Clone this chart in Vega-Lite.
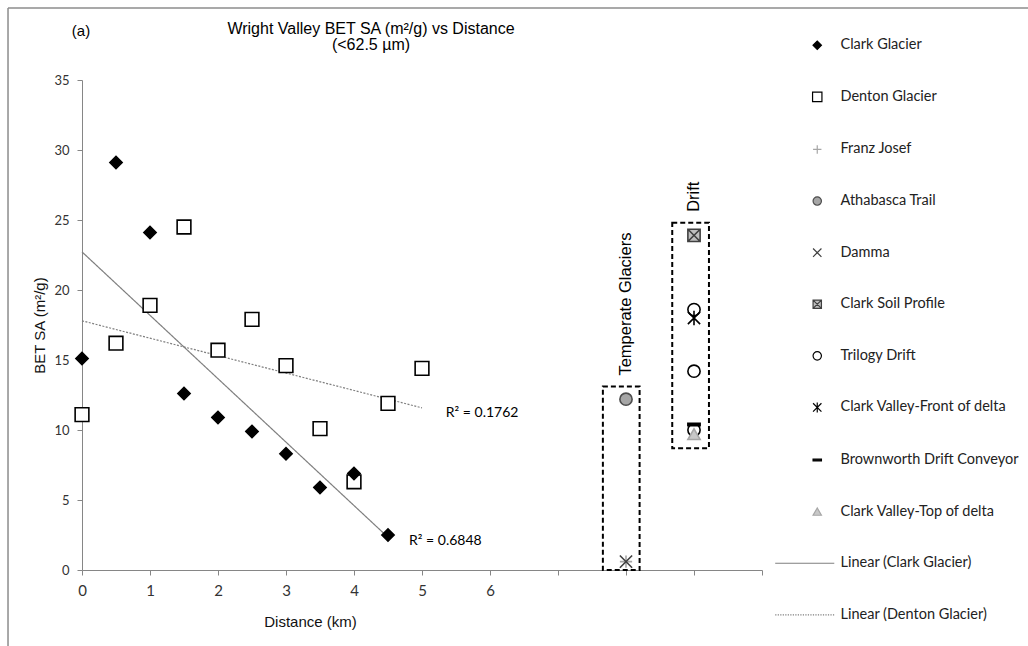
{
  "$schema": "https://vega.github.io/schema/vega-lite/v6.json",
  "width": 680,
  "height": 490,
  "autosize": {"type": "none"},
  "padding": {"left": 82, "top": 80, "right": 266, "bottom": 76},
  "background": "#ffffff",
  "title": {
    "text": ["Wright Valley BET SA (m²/g) vs Distance", "(<62.5 µm)"],
    "font": "Liberation Sans",
    "fontSize": 16,
    "fontWeight": "normal",
    "color": "#000000",
    "anchor": "middle",
    "frame": "group",
    "dx": -51,
    "offset": -46,
    "lineHeight": 16.5
  },
  "datasets": {
    "samples": [
      {"series": "Denton Glacier", "x": 0, "y": 11.1},
      {"series": "Denton Glacier", "x": 0.5, "y": 16.2},
      {"series": "Denton Glacier", "x": 1, "y": 18.9},
      {"series": "Denton Glacier", "x": 1.5, "y": 24.5},
      {"series": "Denton Glacier", "x": 2, "y": 15.7},
      {"series": "Denton Glacier", "x": 2.5, "y": 17.9},
      {"series": "Denton Glacier", "x": 3, "y": 14.6},
      {"series": "Denton Glacier", "x": 3.5, "y": 10.1},
      {"series": "Denton Glacier", "x": 4, "y": 6.3},
      {"series": "Denton Glacier", "x": 4.5, "y": 11.9},
      {"series": "Denton Glacier", "x": 5, "y": 14.4},
      {"series": "Clark Glacier", "x": 0, "y": 15.1},
      {"series": "Clark Glacier", "x": 0.5, "y": 29.1},
      {"series": "Clark Glacier", "x": 1, "y": 24.1},
      {"series": "Clark Glacier", "x": 1.5, "y": 12.6},
      {"series": "Clark Glacier", "x": 2, "y": 10.9},
      {"series": "Clark Glacier", "x": 2.5, "y": 9.9},
      {"series": "Clark Glacier", "x": 3, "y": 8.3},
      {"series": "Clark Glacier", "x": 3.5, "y": 5.9},
      {"series": "Clark Glacier", "x": 4, "y": 6.9},
      {"series": "Clark Glacier", "x": 4.5, "y": 2.5},
      {"series": "Franz Josef", "x": 8, "y": 0.6},
      {"series": "Damma", "x": 8, "y": 0.6},
      {"series": "Athabasca Trail", "x": 8, "y": 12.2},
      {"series": "Clark Soil Profile", "x": 9, "y": 23.9},
      {"series": "Trilogy Drift", "x": 9, "y": 18.6},
      {"series": "Trilogy Drift", "x": 9, "y": 14.2},
      {"series": "Trilogy Drift", "x": 9, "y": 10.0},
      {"series": "Clark Valley-Front of delta", "x": 9, "y": 18.0},
      {"series": "Brownworth Drift Conveyor", "x": 9, "y": 10.4},
      {"series": "Clark Valley-Top of delta", "x": 9, "y": 9.7}
    ],
    "groups": [
      {"group": "Temperate Glaciers", "x0": 7.66, "x1": 8.2, "xc": 8, "y0": 0, "y1": 13.1},
      {"group": "Drift", "x0": 8.68, "x1": 9.22, "xc": 9, "y0": 8.7, "y1": 24.8}
    ],
    "fits": [
      {"text": "R² = 0.1762", "x": 5.35, "y": 11.2},
      {"text": "R² = 0.6848", "x": 4.81, "y": 2.07}
    ],
    "panel": [
      {"text": "(a)", "x": -0.15, "y": 38.5}
    ]
  },
  "layer": [
    {
      "data": {"values": [{}]},
      "mark": {"type": "rule", "stroke": "#8c8c8c", "strokeWidth": 1.5},
      "encoding": {
        "x": {"datum": -1.088, "type": "quantitative", "scale": {"domain": [0, 10], "nice": false, "zero": false},
          "axis": {"title": "Distance (km)", "values": [0, 1, 2, 3, 4, 5, 6, 7, 8, 9, 10], "labelExpr": "datum.value <= 6 ? datum.label : ''", "grid": false, "tickSize": 5, "labelPadding": 8, "labelFlush": false, "titleX": 228, "titleY": 44}},
        "y": {"datum": -5.6, "type": "quantitative", "scale": {"domain": [0, 35], "nice": false},
          "axis": {"title": "BET SA (m²/g)", "values": [0, 5, 10, 15, 20, 25, 30, 35], "grid": false, "tickSize": 5, "labelPadding": 8, "labelFlush": false, "titlePadding": 6}},
        "y2": {"datum": 40.14}
      }
    },
    {
      "data": {"values": [{}]},
      "mark": {"type": "rule", "stroke": "#8c8c8c", "strokeWidth": 1.5},
      "encoding": {
        "x": {"datum": -1.088, "type": "quantitative", "axis": {"title": "Distance (km)", "values": [0, 1, 2, 3, 4, 5, 6, 7, 8, 9, 10], "labelExpr": "datum.value <= 6 ? datum.label : ''", "grid": false, "tickSize": 5, "labelPadding": 8, "labelFlush": false, "titleX": 228, "titleY": 44}},
        "x2": {"datum": 14},
        "y": {"datum": 40.14, "type": "quantitative", "axis": {"title": "BET SA (m²/g)", "values": [0, 5, 10, 15, 20, 25, 30, 35], "grid": false, "tickSize": 5, "labelPadding": 8, "labelFlush": false, "titlePadding": 6}}
      }
    },
    {
      "data": {"name": "groups"},
      "mark": {"type": "rect", "fill": "transparent", "stroke": "#000000", "strokeWidth": 2, "strokeDash": [5, 3]},
      "encoding": {
        "x": {"field": "x0", "type": "quantitative", "axis": {"title": "Distance (km)", "values": [0, 1, 2, 3, 4, 5, 6, 7, 8, 9, 10], "labelExpr": "datum.value <= 6 ? datum.label : ''", "grid": false, "tickSize": 5, "labelPadding": 8, "labelFlush": false, "titleX": 228, "titleY": 44}},
        "x2": {"field": "x1"},
        "y": {"field": "y0", "type": "quantitative", "axis": {"title": "BET SA (m²/g)", "values": [0, 5, 10, 15, 20, 25, 30, 35], "grid": false, "tickSize": 5, "labelPadding": 8, "labelFlush": false, "titlePadding": 6}},
        "y2": {"field": "y1"}
      }
    },
    {
      "data": {"name": "groups"},
      "mark": {"type": "text", "angle": 270, "align": "left", "baseline": "middle", "dx": 11, "font": "Liberation Sans", "fontSize": 16.5, "color": "#000000"},
      "encoding": {
        "x": {"field": "xc", "type": "quantitative", "axis": {"title": "Distance (km)", "values": [0, 1, 2, 3, 4, 5, 6, 7, 8, 9, 10], "labelExpr": "datum.value <= 6 ? datum.label : ''", "grid": false, "tickSize": 5, "labelPadding": 8, "labelFlush": false, "titleX": 228, "titleY": 44}},
        "y": {"field": "y1", "type": "quantitative", "axis": {"title": "BET SA (m²/g)", "values": [0, 5, 10, 15, 20, 25, 30, 35], "grid": false, "tickSize": 5, "labelPadding": 8, "labelFlush": false, "titlePadding": 6}},
        "text": {"field": "group"}
      }
    },
    {
      "data": {"name": "samples"},
      "transform": [
        {"filter": {"field": "series", "oneOf": ["Clark Glacier", "Denton Glacier"]}},
        {"regression": "y", "on": "x", "groupby": ["series"]}
      ],
      "mark": {"type": "line", "stroke": "#7f7f7f", "strokeWidth": 1.2},
      "encoding": {
        "x": {"field": "x", "type": "quantitative", "axis": {"title": "Distance (km)", "values": [0, 1, 2, 3, 4, 5, 6, 7, 8, 9, 10], "labelExpr": "datum.value <= 6 ? datum.label : ''", "grid": false, "tickSize": 5, "labelPadding": 8, "labelFlush": false, "titleX": 228, "titleY": 44}},
        "y": {"field": "y", "type": "quantitative", "axis": {"title": "BET SA (m²/g)", "values": [0, 5, 10, 15, 20, 25, 30, 35], "grid": false, "tickSize": 5, "labelPadding": 8, "labelFlush": false, "titlePadding": 6}},
        "strokeDash": {"field": "series", "type": "nominal", "scale": {"domain": ["Clark Glacier", "Denton Glacier"], "range": [[1, 0], [2, 1.5]]}, "legend": null}
      }
    },
    {
      "data": {"name": "samples"},
      "mark": {"type": "point", "size": 150, "strokeWidth": 1.6, "opacity": 1},
      "encoding": {
        "x": {"field": "x", "type": "quantitative", "axis": {"title": "Distance (km)", "values": [0, 1, 2, 3, 4, 5, 6, 7, 8, 9, 10], "labelExpr": "datum.value <= 6 ? datum.label : ''", "grid": false, "tickSize": 5, "labelPadding": 8, "labelFlush": false, "titleX": 228, "titleY": 44}},
        "y": {"field": "y", "type": "quantitative", "axis": {"title": "BET SA (m²/g)", "values": [0, 5, 10, 15, 20, 25, 30, 35], "grid": false, "tickSize": 5, "labelPadding": 8, "labelFlush": false, "titlePadding": 6}},
        "shape": {
          "field": "series", "type": "nominal", "legend": {"title": null},
          "scale": {
            "domain": ["Clark Glacier", "Denton Glacier", "Franz Josef", "Athabasca Trail", "Damma", "Clark Soil Profile", "Trilogy Drift", "Clark Valley-Front of delta", "Brownworth Drift Conveyor", "Clark Valley-Top of delta", "Linear (Clark Glacier)", "Linear (Denton Glacier)"],
            "range": [
              "diamond",
              "M-1.12,-1.12H1.12V1.12H-1.12Z",
              "M-1,0H1M0,-1V1",
              "circle",
              "M-1,-1L1,1M-1,1L1,-1",
              "M-1,-1H1V1H-1ZM-1,-1L1,1M-1,1L1,-1",
              "circle",
              "M-1,-1L1,1M-1,1L1,-1M0,-1.2V1.2",
              "M-1,-0.2H1V0.2H-1Z",
              "triangle-up",
              "M-10.05,0H4.07",
              "M-10.05,0h0.29M-9.45,0h0.29M-8.85,0h0.29M-8.25,0h0.29M-7.65,0h0.29M-7.05,0h0.29M-6.45,0h0.29M-5.85,0h0.29M-5.25,0h0.29M-4.65,0h0.29M-4.05,0h0.29M-3.45,0h0.29M-2.85,0h0.29M-2.25,0h0.29M-1.65,0h0.29M-1.05,0h0.29M-0.45,0h0.29M0.15,0h0.29M0.75,0h0.29M1.35,0h0.29M1.95,0h0.29M2.55,0h0.29M3.15,0h0.29M3.75,0h0.29"
            ]
          }
        },
        "fill": {
          "field": "series", "type": "nominal", "legend": {"title": null},
          "scale": {
            "domain": ["Clark Glacier", "Denton Glacier", "Franz Josef", "Athabasca Trail", "Damma", "Clark Soil Profile", "Trilogy Drift", "Clark Valley-Front of delta", "Brownworth Drift Conveyor", "Clark Valley-Top of delta", "Linear (Clark Glacier)", "Linear (Denton Glacier)"],
            "range": ["#000000", "#ffffff", "transparent", "#a6a6a6", "transparent", "#bfbfbf", "#ffffff", "transparent", "#000000", "#c8c8c8", "transparent", "transparent"]
          }
        },
        "stroke": {
          "field": "series", "type": "nominal", "legend": {"title": null},
          "scale": {
            "domain": ["Clark Glacier", "Denton Glacier", "Franz Josef", "Athabasca Trail", "Damma", "Clark Soil Profile", "Trilogy Drift", "Clark Valley-Front of delta", "Brownworth Drift Conveyor", "Clark Valley-Top of delta", "Linear (Clark Glacier)", "Linear (Denton Glacier)"],
            "range": ["#000000", "#000000", "#a6a6a6", "#4d4d4d", "#404040", "#404040", "#000000", "#000000", "#000000", "#a6a6a6", "#7f7f7f", "#7f7f7f"]
          }
        }
      }
    },
    {
      "data": {"name": "fits"},
      "mark": {"type": "text", "align": "left", "baseline": "middle", "font": "Lato", "fontSize": 14, "color": "#000000"},
      "encoding": {
        "x": {"field": "x", "type": "quantitative", "axis": {"title": "Distance (km)", "values": [0, 1, 2, 3, 4, 5, 6, 7, 8, 9, 10], "labelExpr": "datum.value <= 6 ? datum.label : ''", "grid": false, "tickSize": 5, "labelPadding": 8, "labelFlush": false, "titleX": 228, "titleY": 44}},
        "y": {"field": "y", "type": "quantitative", "axis": {"title": "BET SA (m²/g)", "values": [0, 5, 10, 15, 20, 25, 30, 35], "grid": false, "tickSize": 5, "labelPadding": 8, "labelFlush": false, "titlePadding": 6}},
        "text": {"field": "text"}
      }
    },
    {
      "data": {"name": "panel"},
      "mark": {"type": "text", "align": "left", "baseline": "middle", "font": "Liberation Sans", "fontSize": 15, "color": "#000000"},
      "encoding": {
        "x": {"field": "x", "type": "quantitative", "axis": {"title": "Distance (km)", "values": [0, 1, 2, 3, 4, 5, 6, 7, 8, 9, 10], "labelExpr": "datum.value <= 6 ? datum.label : ''", "grid": false, "tickSize": 5, "labelPadding": 8, "labelFlush": false, "titleX": 228, "titleY": 44}},
        "y": {"field": "y", "type": "quantitative", "axis": {"title": "BET SA (m²/g)", "values": [0, 5, 10, 15, 20, 25, 30, 35], "grid": false, "tickSize": 5, "labelPadding": 8, "labelFlush": false, "titlePadding": 6}},
        "text": {"field": "text"}
      }
    }
  ],
  "config": {
    "view": {"stroke": null},
    "axis": {
      "domainColor": "#868686",
      "tickColor": "#868686",
      "labelFont": "Lato",
      "labelColor": "#333333",
      "titleFont": "Liberation Sans",
      "titleFontWeight": "normal",
      "titleFontSize": 15,
      "titleColor": "#111111"
    },
    "axisX": {"labelFontSize": 15},
    "axisY": {"labelFontSize": 13},
    "legend": {
      "orient": "none",
      "legendX": 728,
      "legendY": -42,
      "labelFont": "Lato",
      "labelFontSize": 14.5,
      "labelColor": "#222222",
      "labelLimit": 300,
      "symbolSize": 70,
      "symbolStrokeWidth": 1.2,
      "rowPadding": 36.6,
      "labelOffset": 16
    }
  }
}
